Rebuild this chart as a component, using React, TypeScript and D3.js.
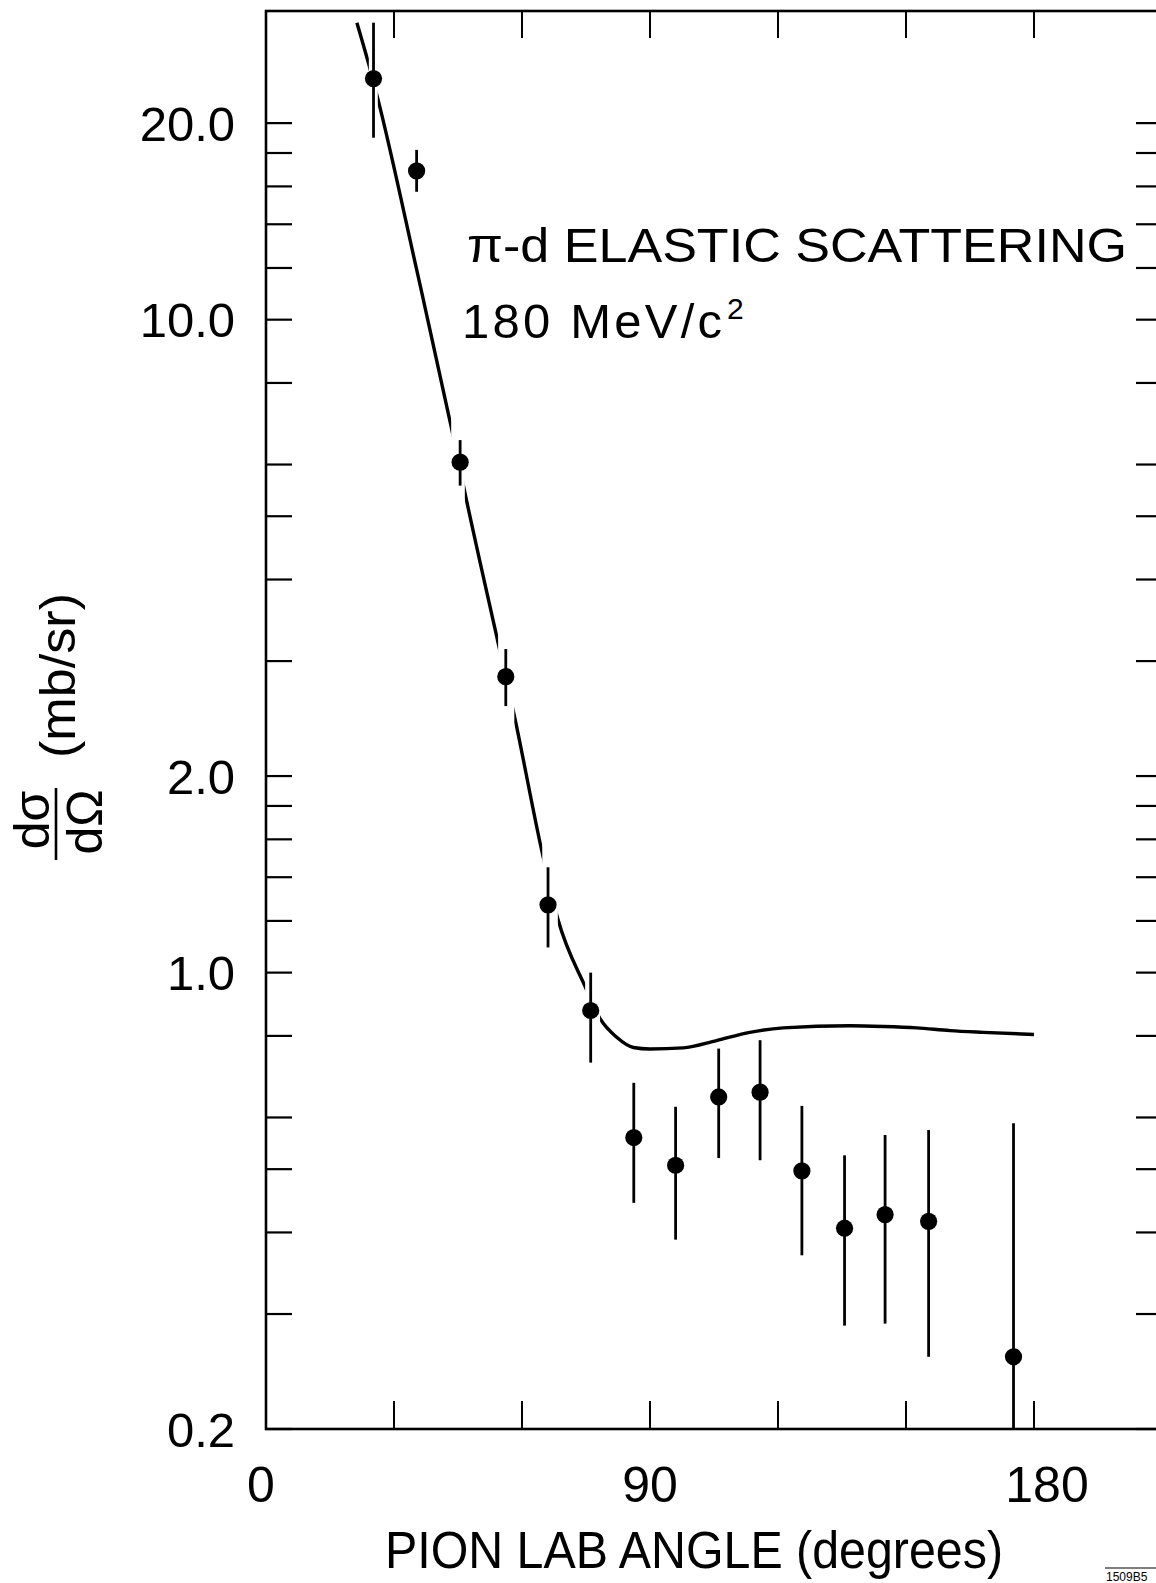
import React from "react";
import * as d3 from "d3";

// pion lab angle (deg) of each measured point
const angles = [25.2, 35.3, 45.5, 56.2, 66.1, 76.1, 86.2, 96.0, 106.1, 115.8, 125.6, 135.6, 145.1, 155.3, 175.2];
// dsigma/dOmega (mb/sr)
const values = [23.4, 16.9, 6.05, 2.84, 1.27, 0.875, 0.559, 0.507, 0.645, 0.656, 0.497, 0.406, 0.426, 0.416, 0.258];
const errHigh = [28.5, 18.2, 6.54, 3.13, 1.45, 1.0, 0.678, 0.623, 0.765, 0.788, 0.625, 0.525, 0.564, 0.574, 0.588];
const errLow = [19.0, 15.7, 5.57, 2.56, 1.093, 0.728, 0.444, 0.39, 0.52, 0.516, 0.369, 0.288, 0.29, 0.258, 0.2];

// theory curve, [angle, value]
const curve: [number, number][] = [
  [21.3, 28.5], [24.1, 24.6], [26.2, 21.8], [35.1, 12.1], [43.4, 6.86], [46.6, 5.44],
  [54.4, 3.2], [58.2, 2.475], [64.75, 1.525], [68.4, 1.208], [74.8, 0.952],
  [78.3, 0.85], [82.2, 0.796], [86.1, 0.768], [90, 0.764], [97.8, 0.767], [105.6, 0.787],
  [113.4, 0.81], [121.2, 0.823], [136.9, 0.829], [144.7, 0.827], [152.5, 0.823],
  [160.3, 0.815], [168.1, 0.81], [180, 0.804],
];
// angle ranges where the plotted curve is broken around the data points
const curveGaps = [[24.1, 26.2], [43.4, 46.6], [54.4, 58.2], [64.75, 68.4], [74.8, 78.3]];

const xTicks = [0, 30, 60, 90, 120, 150, 180, 210];
const xLabels = [0, 90, 180];
const yTicks = [0.2, 0.3, 0.4, 0.5, 0.6, 0.8, 1, 1.2, 1.4, 1.6, 1.8, 2, 3, 4, 5, 6, 8, 10, 12, 14, 16, 18, 20];
const yLabels = [0.2, 1, 2, 10, 20];

const W = 1156;
const H = 1583;
const FONT = "'Liberation Sans', Arial, Helvetica, sans-serif";

const App = () => {
  const x = d3.scaleLinear().domain([0, 210]).range([266, 1162]);
  const y = d3.scaleLog().domain([0.2, 29.7]).range([1429, 11]);
  const [x0, x1] = x.range();
  const [y0, y1] = y.range();

  const line = d3
    .line<[number, number]>()
    .x((d) => x(d[0]))
    .y((d) => y(d[1]))
    .curve(d3.curveMonotoneX);

  const xNudge = (v: number) => (v === 0 ? -5 : v === 180 ? 13 : 0);

  return (
    <svg width={W} height={H} style={{ position: "absolute", left: 0, top: 0, background: "#fff" }} fontFamily={FONT}>
      <defs>
        <mask id="gaps">
          <rect x={0} y={0} width={W} height={H} fill="#fff" />
          {curveGaps.map((g, i) => (
            <rect key={i} x={x(g[0])} y={0} width={x(g[1]) - x(g[0])} height={H} fill="#000" />
          ))}
        </mask>
      </defs>
      <rect x={0} y={0} width={W} height={H} fill="#fff" />

      {/* frame */}
      <rect x={x0} y={y1} width={x1 - x0} height={y0 - y1} fill="none" stroke="#000" strokeWidth={2.6} />

      {/* x ticks, top and bottom */}
      {xTicks.map((t) => (
        <g key={t} stroke="#000" strokeWidth={2}>
          <line x1={x(t)} x2={x(t)} y1={y0} y2={y0 - 28} />
          <line x1={x(t)} x2={x(t)} y1={y1} y2={y1 + 27} />
        </g>
      ))}
      {/* y ticks, left and right */}
      {yTicks.map((t) => (
        <g key={t} stroke="#000" strokeWidth={2.2}>
          <line x1={x0} x2={x0 + 26} y1={y(t)} y2={y(t)} />
          <line x1={x1} x2={x1 - 26} y1={y(t)} y2={y(t)} />
        </g>
      ))}

      {/* tick labels */}
      {yLabels.map((t) => (
        <text key={t} x={235} y={y(t) + 17.5} fontSize={49} textAnchor="end">
          {t.toFixed(1)}
        </text>
      ))}
      {xLabels.map((t) => (
        <text key={t} x={x(t) + xNudge(t)} y={1502} fontSize={50} textAnchor="middle">
          {t}
        </text>
      ))}

      {/* axis titles */}
      <text x={385} y={1568} fontSize={51} textLength={618} lengthAdjust="spacingAndGlyphs">
        PION LAB ANGLE (degrees)
      </text>
      <g fontSize={50} textAnchor="middle">
        <text transform="translate(49,820) rotate(-90)">dσ</text>
        <text transform="translate(102,822) rotate(-90)">dΩ</text>
      </g>
      <line x1={56} x2={56} y1={788} y2={860} stroke="#000" strokeWidth={2.6} />
      <text transform="translate(75,758) rotate(-90)" fontSize={50} textLength={165} lengthAdjust="spacingAndGlyphs">
        (mb/sr)
      </text>

      {/* annotation */}
      <text x={467} y={262} fontSize={48} textLength={660} lengthAdjust="spacingAndGlyphs">
        π-d ELASTIC SCATTERING
      </text>
      <text x={462} y={338} fontSize={49} textLength={260} lengthAdjust="spacing">
        180 MeV/c
      </text>
      <text x={727} y={319} fontSize={30}>
        2
      </text>

      {/* theory curve */}
      <path d={line(curve) ?? ""} fill="none" stroke="#000" strokeWidth={3.4} mask="url(#gaps)" />

      {/* data with error bars */}
      {angles.map((a, i) => (
        <g key={i}>
          <line x1={x(a)} x2={x(a)} y1={y(errHigh[i])} y2={y(errLow[i])} stroke="#000" strokeWidth={2.8} />
          <circle cx={x(a)} cy={y(values[i])} r={8.6} fill="#000" />
        </g>
      ))}

      {/* plate number */}
      <line x1={1105} x2={W} y1={1568} y2={1568} stroke="#000" strokeWidth={1.2} />
      <text x={1106} y={1581} fontSize={12}>
        1509B5
      </text>
    </svg>
  );
};

export default App;
